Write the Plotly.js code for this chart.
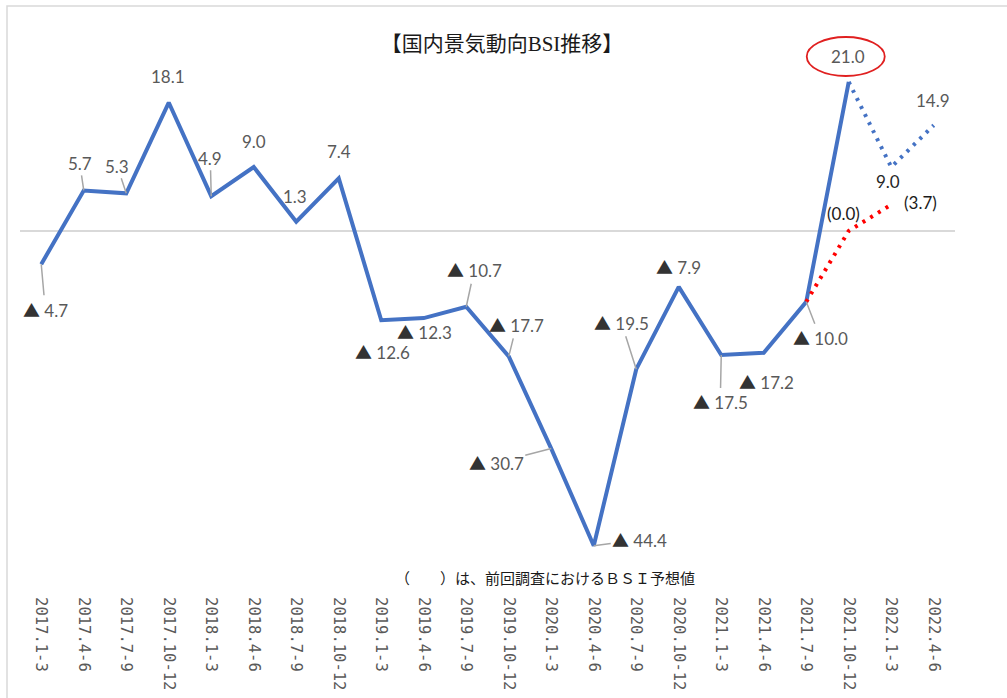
<!DOCTYPE html>
<html>
<head>
<meta charset="utf-8">
<script src="https://cdn.plot.ly/plotly-3.0.1.min.js"></script>
<style>html,body{margin:0;padding:0;background:#fff;}#chart{width:1007px;height:698px;}</style>
</head>
<body>
<div id="chart"></div>
<script>
// ---- data ----
const categories = ["2017.1-3","2017.4-6","2017.7-9","2017.10-12","2018.1-3","2018.4-6","2018.7-9","2018.10-12",
  "2019.1-3","2019.4-6","2019.7-9","2019.10-12","2020.1-3","2020.4-6","2020.7-9","2020.10-12",
  "2021.1-3","2021.4-6","2021.7-9","2021.10-12","2022.1-3","2022.4-6"];
const actualValues = [-4.7, 5.7, 5.3, 18.1, 4.9, 9.0, 1.3, 7.4, -12.6, -12.3, -10.7, -17.7, -30.7, -44.4, -19.5, -7.9, -17.5, -17.2, -10.0, 21.0];
const forecastCategories = ["2021.10-12","2022.1-3","2022.4-6"];
const forecastValues = [21.0, 9.0, 14.9];
const prevForecastCategories = ["2021.7-9","2021.10-12","2022.1-3"];
const prevForecastValues = [-10.0, 0.0, 3.7];
const titleText = "【国内景気動向BSI推移】";
const noteText = "（　　）は、前回調査におけるＢＳＩ予想値";

// ---- label styling (offsets in px, leader flag) ----
const actualLabelStyle = [
  [4,45,1],[-4,-27,1],[-9,-27,1],[-1,-26,0],[-1,-38,1],[0,-26,0],[-1,-25,0],[0,-27,0],
  [1,31,0],[1,13,0],[8,-37,1],[8,-32,1],[-55,14,1],[46,-6,1],[-15,-47,1],[0,-20,0],
  [-1,47,1],[3,29,0],[14,36,1],[-1,-25,0]
];
const forecastLabelStyle = [null,[-3,14,0],[-1,-25,0]];
const prevLabelStyle = [null,[-5,-17,0],[29,-2,0]];

const TRI = '<span style="font-family:\'Noto Sans CJK JP\';color:#333333">▲</span>';
function fmt(v){ return v < 0 ? TRI + " " + Math.abs(v).toFixed(1) : v.toFixed(1); }

const labelFont = {family:"Lato, 'Noto Sans', sans-serif", size:17, color:"#595959"};
const annotations = [];
function addLabel(xc, yv, text, st, color){
  annotations.push({
    x: xc, y: yv, xref:"x", yref:"y", text: text,
    showarrow: true, arrowhead: 0, ax: st[0], ay: st[1],
    arrowcolor: st[2] ? "#a6a6a6" : "rgba(0,0,0,0)", arrowwidth: 1.5, standoff: 0,
    font: Object.assign({}, labelFont, color ? {color: color} : {})
  });
}
actualValues.forEach((v,i)=> addLabel(categories[i], v, fmt(v), actualLabelStyle[i]));
forecastValues.forEach((v,i)=> { if(forecastLabelStyle[i]) addLabel(forecastCategories[i], v, fmt(v), forecastLabelStyle[i], i===1 ? "#262626" : null); });
prevForecastValues.forEach((v,i)=> { if(prevLabelStyle[i]) addLabel(prevForecastCategories[i], v, "(" + v.toFixed(1) + ")", prevLabelStyle[i], "#1a1a1a"); });

annotations.push({
  xref:"paper", yref:"paper", x:0.5615, y:0.0202, xanchor:"center", yanchor:"middle",
  text: noteText, showarrow:false,
  font:{family:"'Noto Sans CJK JP', sans-serif", size:15, color:"#1a1a1a"}
});

const traces = [
  {x: categories.slice(0, actualValues.length), y: actualValues, type:"scatter", mode:"lines",
   line:{color:"#4472C4", width:4}, hoverinfo:"skip"},
  {x: forecastCategories, y: forecastValues, type:"scatter", mode:"lines",
   line:{color:"#4472C4", width:4, dash:"3px,6px"}, hoverinfo:"skip"},
  {x: prevForecastCategories, y: prevForecastValues, type:"scatter", mode:"lines",
   line:{color:"#FF0000", width:4, dash:"3px,6px"}, hoverinfo:"skip"}
];

const layout = {
  width:1007, height:698,
  margin:{l:20, r:52, t:30, b:108.7},
  paper_bgcolor:"#ffffff", plot_bgcolor:"#ffffff",
  showlegend:false,
  title:{text:titleText, x:0.4985, xref:"container", y:0.937, yref:"container", xanchor:"center", yanchor:"middle",
         font:{family:"'Liberation Serif', 'Noto Sans CJK JP', serif", size:21, color:"#1a1a1a", weight:400}},
  xaxis:{type:"category", categoryarray:categories, range:[-0.5, 21.5], tickangle:90,
         tickfont:{family:"'DejaVu Sans Mono', monospace", size:15.5, color:"#595959"},
         showgrid:false, zeroline:false, showline:false, ticks:"outside", ticklen:4, tickcolor:"rgba(0,0,0,0)", fixedrange:true},
  yaxis:{range:[-50.5, 28.33], showticklabels:false, showgrid:false, zeroline:true,
         zerolinecolor:"#d9d9d9", zerolinewidth:1.5, showline:false, ticks:"", fixedrange:true},
  shapes:[
    {type:"rect", xref:"paper", yref:"paper", x0:-0.0139, x1:1.0588, y0:-0.2015, y1:1.0429,
     line:{color:"#d9d9d9", width:1.5}, fillcolor:"rgba(0,0,0,0)", layer:"below"},
    {type:"circle", xref:"x", yref:"y", xsizemode:"pixel", ysizemode:"pixel",
     xanchor:"2021.10-12", yanchor:21.0, x0:-42, x1:36, y0:6, y1:45,
     line:{color:"#E02020", width:1.8}, fillcolor:"rgba(0,0,0,0)"}
  ],
  annotations: annotations
};

Plotly.newPlot("chart", traces, layout, {displayModeBar:false, staticPlot:true});
</script>
</body>
</html>
